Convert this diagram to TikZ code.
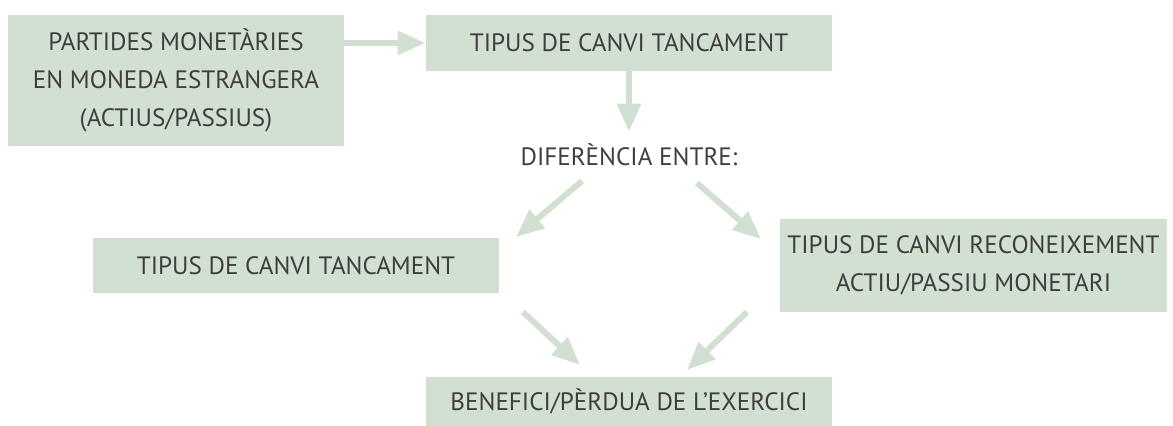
\documentclass[tikz,border=0pt]{standalone}
\usepackage{fontspec}
\setmainfont{PT Sans}
\usetikzlibrary{arrows.meta,positioning}
\definecolor{sage}{RGB}{210,224,210}
\definecolor{inkgray}{RGB}{62,62,62}

\begin{document}
\begin{tikzpicture}[
  box/.style={rectangle, fill=sage, text=inkgray, align=center, inner sep=0pt, font=\fontsize{14.3}{21.8}\selectfont},
  plain/.style={text=inkgray, align=center, font=\fontsize{14.3}{21.8}\selectfont},
  flow/.style={draw=sage, line width=0.12cm, -{Triangle[length=0.56cm,width=0.46cm]}}
]
\useasboundingbox (0,0) rectangle (23.46,8.52);

% Boxes
\node[box, minimum width=6.72cm, minimum height=2.62cm] (partides) at (3.52,6.91) {PARTIDES MONETÀRIES\\EN MONEDA ESTRANGERA\\(ACTIUS/PASSIUS)};
\node[box, minimum width=8.12cm, minimum height=1.12cm] (tancament) at (12.58,7.66) {TIPUS DE CANVI TANCAMENT};
\node[plain] (diferencia) at (12.58,5.42) {DIFERÈNCIA ENTRE:};
\node[box, minimum width=8.12cm, minimum height=1.10cm] (tancamentb) at (5.92,3.21) {TIPUS DE CANVI TANCAMENT};
\node[box, minimum width=7.74cm, minimum height=1.86cm] (reconeixement) at (19.47,3.21) {TIPUS DE CANVI RECONEIXEMENT\\ACTIU/PASSIU MONETARI};
\node[box, minimum width=8.12cm, minimum height=0.98cm] (resultat) at (12.58,0.49) {BENEFICI/PÈRDUA DE L’EXERCICI};

% Arrow ends
\coordinate (dl) at (11.64,4.90);
\coordinate (dr) at (13.94,4.86);
\coordinate (tl) at (10.32,3.78);
\coordinate (tr) at (15.22,3.74);
\coordinate (bl) at (10.46,2.28);
\coordinate (br) at (14.94,2.28);
\coordinate (rl) at (11.60,1.22);
\coordinate (rr) at (13.74,1.12);

% Connections
\draw[flow] (partides.east |- tancament.west) -- (tancament.west);
\draw[flow, shorten >=0.12cm] (tancament.south) -- (diferencia.north);
\draw[flow] (dl) -- (tl);
\draw[flow] (dr) -- (tr);
\draw[flow] (bl) -- (rl);
\draw[flow] (br) -- (rr);

\end{tikzpicture}
\end{document}
